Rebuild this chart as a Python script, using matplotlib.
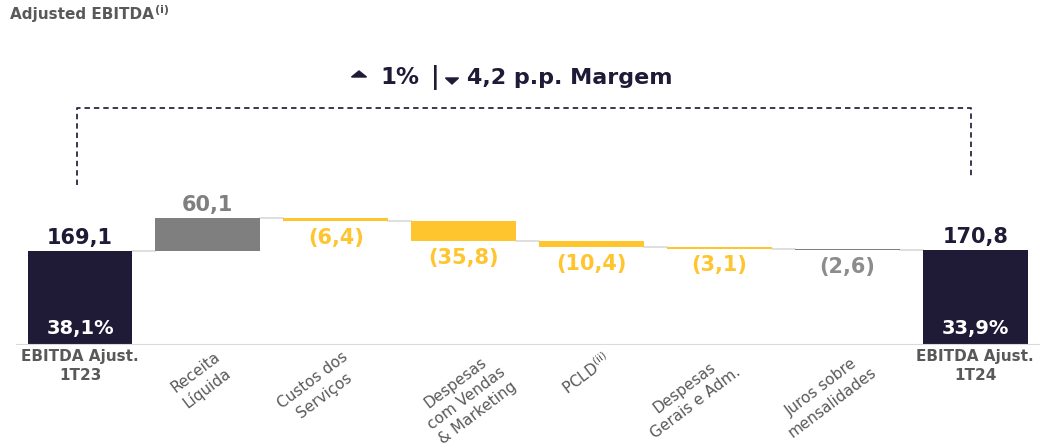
import matplotlib.pyplot as plt
from matplotlib.patches import Polygon

# data
categories = ['EBITDA Ajust.\n1T23', 'Receita\nLíquida', 'Custos dos\nServiços',
              'Despesas\ncom Vendas\n& Marketing', r'PCLD$^{\mathrm{(ii)}}$',
              'Despesas\nGerais e Adm.', 'Juros sobre\nmensalidades', 'EBITDA Ajust.\n1T24']
values = [169.1, 60.1, -6.4, -35.8, -10.4, -3.1, -2.6, 170.8]
labels = ['169,1', '60,1', '(6,4)', '(35,8)', '(10,4)', '(3,1)', '(2,6)', '170,8']
margins = ['38,1%', '33,9%']
is_total = [True, False, False, False, False, False, False, True]

# layout tweaks for the rotated labels (pixels right of bar centre)
label_dx = [0, 27, 26, 56, 22, 24, 32, 0]

navy = '#1F1A36'
grey = '#7F7F7F'
yellow = '#FFC52F'
txt_grey = '#595959'

W, H = 1045, 446
fig = plt.figure(figsize=(W / 100, H / 100), dpi=100)
ax = fig.add_axes([0, 101 / H, 1, 345 / H])
ax.set_xlim(-0.6255, 7.545)
ax.set_ylim(0, 620.5)
ax.axis('off')

w = 0.82
running = 0
tops = []
for i, v in enumerate(values):
    if is_total[i]:
        bottom, height, col = 0, v, navy
        running = v
    else:
        bottom, height = running, v
        running += v
        col = grey if (v > 0 or i == 6) else yellow
    ax.bar(i, height, bottom=bottom, width=w, color=col, zorder=3)
    tops.append(running)

    if is_total[i]:
        ax.annotate(labels[i], (i, v), xytext=(0, 2), textcoords='offset points',
                    ha='center', va='bottom', fontsize=15, fontweight='bold', color=navy)
    elif v > 0:
        ax.annotate(labels[i], (i, running), xytext=(0, 2), textcoords='offset points',
                    ha='center', va='bottom', fontsize=15, fontweight='bold', color=grey)
    else:
        ax.annotate(labels[i], (i, running), xytext=(0, -5), textcoords='offset points',
                    ha='center', va='top', fontsize=15, fontweight='bold',
                    color='#8C8C8C' if i == 6 else yellow)

# connectors
for i in range(len(values) - 1):
    ax.plot([i + w / 2, i + 1 - w / 2], [tops[i], tops[i]], color='#D9D9D9', lw=1.2, zorder=2)

# baseline
ax.plot([-0.49, 7.5], [0, 0], color='#D9D9D9', lw=1.5, zorder=4)

# margins inside total bars
for i, m in zip([0, 7], margins):
    ax.annotate(m, (i, 0), xytext=(0, 5), textcoords='offset points', ha='center', va='bottom',
                fontsize=14, fontweight='bold', color='white', zorder=5)

# category labels
for i, c in enumerate(categories):
    if is_total[i]:
        ax.annotate(c, (i, 0), xytext=(0, -3), textcoords='offset points', ha='center', va='top',
                    fontsize=11, fontweight='bold', color=txt_grey, linespacing=1.3)
    else:
        ax.annotate(c, (i, 0), xytext=(label_dx[i] * 0.72, -3), textcoords='offset points',
                    ha='right', va='top', rotation=37, multialignment='center',
                    fontsize=11, color=txt_grey, linespacing=1.3)

# dashed bracket
ax.plot([-0.02, -0.02, 6.97, 6.97], [288, 426, 426, 304], ls='--', dashes=(3, 2.2),
        color='#2B2940', lw=1.3, zorder=1)

# header
fig.text(10 / W, 1 - 15 / H, 'Adjusted EBITDA', fontsize=11,
         fontweight='bold', color=txt_grey, ha='left', va='center')
fig.text(155 / W, 1 - 10 / H, '(i)', fontsize=8, fontweight='bold', color=txt_grey,
         ha='left', va='center')


def tri(xc, yc, up, tw=14, th=6):
    if up:
        pts = [(xc - tw / 2, yc + th / 2), (xc + tw / 2, yc + th / 2), (xc, yc - th / 2)]
    else:
        pts = [(xc - tw / 2, yc - th / 2), (xc + tw / 2, yc - th / 2), (xc, yc + th / 2)]
    pts = [(x / W, 1 - y / H) for x, y in pts]
    fig.patches.append(Polygon(pts, closed=True, color=navy, transform=fig.transFigure))


ty = 1 - 78 / H
tri(359, 74, True, 15, 6)
fig.text(380 / W, ty, '1%', fontsize=16.5, fontweight='bold', color=navy, ha='left', va='center')
fig.text(435 / W, ty, '|', fontsize=17, fontweight='bold', color=navy, ha='center', va='center')
tri(452, 81, False, 13, 6)
fig.text(467 / W, ty, '4,2 p.p. Margem', fontsize=16, fontweight='bold', color=navy,
         ha='left', va='center')

fig.savefig('out.png', dpi=100)
